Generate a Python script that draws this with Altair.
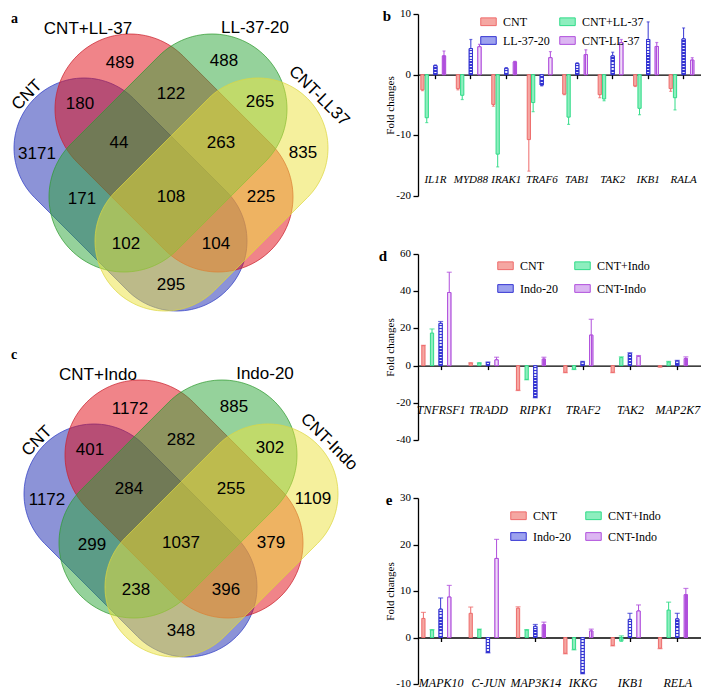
import math
import altair as alt
import pandas as pd

# ---------------- data ----------------
venn_a_sets = ["CNT", "CNT+LL-37", "LL-37-20", "CNT-LL37"]
venn_a_counts = [3171, 489, 488, 835, 180, 122, 265, 44, 263, 171, 108, 225, 102, 104, 295]
venn_c_sets = ["CNT", "CNT+Indo", "Indo-20", "CNT-Indo"]
venn_c_counts = [1172, 1172, 885, 1109, 401, 282, 302, 284, 255, 299, 1037, 379, 238, 396, 348]

genes_b = ["IL1R", "MYD88", "IRAK1", "TRAF6", "TAB1", "TAK2", "IKB1", "RALA"]
series_b = ["CNT", "CNT+LL-37", "LL-37-20", "CNT-LL-37"]
b_cnt = [-2.5, -2.3, -4.9, -10.7, -3.2, -3.3, -1.85, -2.3]
b_cnt_end = [-2.65, -2.5, -5.2, -15.9, -3.3, -3.8, -1.95, -2.75]
b_cntll = [-7.1, -3.4, -13.1, -4.6, -7.0, -4.0, -5.55, -3.8]
b_cntll_end = [-7.9, -4.1, -15.2, -6.1, -8.2, -4.3, -6.6, -5.8]
b_ll20 = [1.5, 4.3, 1.05, -1.7, 1.85, 3.1, 5.8, 5.9]
b_ll20_end = [1.6, 5.8, 1.15, -1.85, 1.95, 3.7, 8.7, 7.7]
b_cntm = [3.1, 4.6, 2.1, 2.8, 3.3, 5.3, 4.65, 2.4]
b_cntm_end = [3.9, 5.0, 2.2, 3.8, 4.1, 5.8, 5.3, 2.8]

genes_d = ["TNFRSF1", "TRADD", "RIPK1", "TRAF2", "TAK2", "MAP2K7"]
series_d = ["CNT", "CNT+Indo", "Indo-20", "CNT-Indo"]
d_cnt = [10.7, 1.4, -13.2, -3.6, -3.6, -0.7]
d_cnt_end = [10.9, 1.5, -13.4, -3.8, -3.8, -0.8]
d_cntp = [17.5, 1.4, -7.4, -1.9, 4.3, 1.9]
d_cntp_end = [19.7, 1.5, -7.6, -2.1, 4.7, 2.25]
d_i20 = [22.7, 1.7, -17.1, 1.9, 6.4, 2.4]
d_i20_end = [23.7, 1.9, -17.3, 2.25, 6.9, 2.8]
d_cntm = [39.3, 3.1, 3.5, 16.4, 5.0, 3.8]
d_cntm_end = [50.2, 4.5, 4.5, 24.9, 5.4, 4.7]

genes_e = ["MAPK10", "C-JUN", "MAP3K14", "IKKG", "IKB1", "RELA"]
series_e = ["CNT", "CNT+Indo", "Indo-20", "CNT-Indo"]
e_cnt = [4.1, 5.2, 6.3, -3.4, -1.7, -2.3]
e_cnt_end = [5.4, 6.55, 6.6, -3.5, -1.8, -2.4]
e_cntp = [1.6, 1.7, 1.6, -2.55, -0.8, 5.9]
e_cntp_end = [1.7, 1.8, 1.7, -2.65, 0.35, 7.6]
e_i20 = [6.1, -3.2, 2.4, -7.7, 3.9, 4.0]
e_i20_end = [8.5, -3.3, 2.8, -7.8, 5.2, 5.2]
e_cntm = [8.7, 17.0, 2.75, 1.4, 5.7, 9.2]
e_cntm_end = [11.2, 21.1, 3.3, 1.8, 7.0, 10.55]

# ---------------- styles / layout ----------------
SERIF = "Liberation Serif"
SANS = "Liberation Sans"
bar_stroke = ["#ee6b6b", "#30dc88", "#3535d2", "#b04fdc"]
bar_fill = ["#f5a7a2", "#8deebe", "#eceefc", "#efdcf8"]

venn_fill = ["#1a28b0", "#e10a14", "#2ca538", "#ebe23c"]
venn_line = ["#2c3bc4", "#c8202c", "#2f9a2f", "#dcd640"]
# stadium shapes: (cap centre 1, cap centre 2, radius) in diagram units
venn_geom = [((76, 142), (169, 235), 70), ((122, 103), (210, 191), 75),
             ((204, 103), (116, 191), 75), ((250, 142), (157, 235), 70)]
region_xy = [(29, 148), (112, 57), (216, 55), (295, 147), (72, 98), (163, 88), (252, 96),
             (111, 137), (213, 137), (74, 193), (163, 191), (253, 191), (118, 238), (208, 238),
             (163, 279)]
set_label_xy = [(19, 89), (80, 23), (247, 22), (311, 90)]
set_label_angle = [315, 0, 0, 45]
diagram_offset = {"a": (0, -8), "c": (10, 338)}


def stadium(p1, p2, r, off, k=60):
    (x1, y1), (x2, y2) = p1, p2
    base = math.atan2(y2 - y1, x2 - x1)
    pts = []
    for i in range(k + 1):
        a = base - math.pi / 2 + math.pi * i / k
        pts.append([x2 + r * math.cos(a) + off[0], y2 + r * math.sin(a) + off[1]])
    for i in range(k + 1):
        a = base + math.pi / 2 + math.pi * i / k
        pts.append([x1 + r * math.cos(a) + off[0], y1 + r * math.sin(a) + off[1]])
    pts.append(pts[0])
    return pts


features = []
texts = []
for key, sets, counts in [("a", venn_a_sets, venn_a_counts), ("c", venn_c_sets, venn_c_counts)]:
    off = diagram_offset[key]
    for i, (p1, p2, r) in enumerate(venn_geom):
        features.append({"type": "Feature",
                         "geometry": {"type": "Polygon", "coordinates": [stadium(p1, p2, r, off)]},
                         "properties": {"fill": venn_fill[i], "line": venn_line[i], "name": sets[i]}})
    for (x, y), c in zip(region_xy, counts):
        texts.append({"x": x + off[0], "y": y + off[1], "label": str(c), "ang": 0})
    for (x, y), s, ang in zip(set_label_xy, sets, set_label_angle):
        texts.append({"x": x + off[0], "y": y + off[1], "label": s, "ang": ang})

proj = dict(type="identity", scale=1, translate=[0, 0])

shapes = alt.Chart(
    alt.InlineData(values={"type": "FeatureCollection", "features": features},
                   format=alt.DataFormat(property="features", type="json"))
).mark_geoshape(fillOpacity=0.5, strokeWidth=0.8, strokeOpacity=0.9).encode(
    fill=alt.Fill("properties.fill:N", scale=None),
    stroke=alt.Stroke("properties.line:N", scale=None),
).project(**proj)

venn_text = alt.Chart(pd.DataFrame(texts)).mark_text(
    font=SANS, fontSize=17, color="black", baseline="middle", align="center"
).encode(
    longitude="x:Q", latitude="y:Q", text="label:N", angle=alt.Angle("ang:Q", scale=None)
).project(**proj)

letters_venn = alt.Chart(pd.DataFrame({"x": [3, 3], "y": [5, 341], "t": ["a", "c"]})).mark_text(
    font=SERIF, fontSize=14, fontWeight="bold", color="black", align="left", baseline="middle"
).encode(longitude="x:Q", latitude="y:Q", text="t:N").project(**proj)

left = alt.layer(shapes, venn_text, letters_venn).properties(width=350, height=650)


def stripe_gradient(height_px, color, bg, spacing=3.0):
    n = max(1, int(round(height_px / spacing)))
    stops = []
    for i in range(n):
        a, m, b = i / n, (i + 0.45) / n, (i + 1) / n
        stops += [{"offset": a, "color": bg}, {"offset": m, "color": bg},
                  {"offset": m, "color": color}, {"offset": b, "color": color}]
    return {"gradient": "linear", "x1": 0, "y1": 0, "x2": 0, "y2": 1, "stops": stops}


def bar_panel(letter, genes, series, vals, ends, domain, ticks, h, label_level, label_size,
              legend_x, legend_y, row_pad, col_pad, cap, letter_dx):
    span = domain[1] - domain[0]
    px_per_unit = h / span
    rows = []
    for si, (s, v, e) in enumerate(zip(series, vals, ends)):
        for g, vv, ee in zip(genes, v, e):
            grad = stripe_gradient(abs(vv) * px_per_unit, bar_stroke[2], bar_fill[2]) if si == 2 else None
            rows.append({"gene": g, "series": s, "value": vv, "end": ee, "grad": grad})
    df = pd.DataFrame(rows)
    zero_from_bottom = h * (0 - domain[0]) / span
    x = alt.X("gene:N", sort=genes,
              scale=alt.Scale(paddingInner=0.18, paddingOuter=0.08),
              axis=alt.Axis(title=None, labels=False, offset=-zero_from_bottom,
                            tickSize=4, tickColor="black", domainColor="black",
                            domainWidth=1.3, tickWidth=1.3))
    xo = alt.XOffset("series:N", sort=series, scale=alt.Scale(paddingInner=0.25))
    yaxis = alt.Axis(values=[float(t) for t in ticks], grid=False, title="Fold changes",
                     titleFont=SERIF, titleFontSize=11, titleFontWeight="normal",
                     titleColor="black", labels=False, tickSize=5, tickColor="black",
                     domainColor="black", domainWidth=1.3, tickWidth=1.3,
                     titlePadding=17)
    yscale = alt.Scale(domain=domain, nice=False)

    def ych(field):
        return alt.Y(field, scale=yscale, axis=yaxis, title="Fold changes")

    leg = alt.Legend(title=None, orient="none", legendX=legend_x, legendY=legend_y,
                     columns=2, direction="horizontal",
                     labelFont=SERIF, labelFontSize=12, labelColor="black",
                     symbolType="M-1,-0.5H1V0.5H-1Z", symbolSize=240, symbolStrokeWidth=1,
                     rowPadding=row_pad, columnPadding=col_pad, labelOffset=6)
    legend_fill = [bar_fill[0], bar_fill[1], "#9da2ee", "#dcb6f2"]
    base = alt.Chart(df)
    bars = base.mark_bar(strokeWidth=1).encode(
        x=x, xOffset=xo, y=ych("value:Q"),
        fill=alt.Fill("series:N", sort=series, scale=alt.Scale(domain=series, range=legend_fill), legend=leg),
        stroke=alt.Stroke("series:N", sort=series, scale=alt.Scale(domain=series, range=bar_stroke), legend=leg),
    )
    hstripes = base.transform_filter(alt.datum.series == series[2]).mark_bar(
        strokeWidth=1, stroke=bar_stroke[2]
    ).encode(x=x, xOffset=xo, y=ych("value:Q"), fill=alt.Fill("grad:N", scale=None))
    vstripes = base.transform_filter(alt.datum.series == series[3]).mark_bar(
        strokeWidth=1, stroke=bar_stroke[3],
        fill=alt.Gradient(gradient="linear", x1=0, x2=1, y1=0, y2=0, stops=[
            alt.GradientStop(offset=0, color=bar_fill[3]),
            alt.GradientStop(offset=0.3, color=bar_fill[3]),
            alt.GradientStop(offset=0.3, color=bar_stroke[3]),
            alt.GradientStop(offset=0.42, color=bar_stroke[3]),
            alt.GradientStop(offset=0.42, color=bar_fill[3]),
            alt.GradientStop(offset=0.58, color=bar_fill[3]),
            alt.GradientStop(offset=0.58, color=bar_stroke[3]),
            alt.GradientStop(offset=0.7, color=bar_stroke[3]),
            alt.GradientStop(offset=0.7, color=bar_fill[3]),
            alt.GradientStop(offset=1, color=bar_fill[3]),
        ])
    ).encode(x=x, xOffset=xo, y=ych("value:Q"))
    col = alt.Color("series:N", sort=series, scale=alt.Scale(domain=series, range=bar_stroke), legend=None)
    err = base.mark_rule(strokeWidth=1).encode(x=x, xOffset=xo, y=ych("value:Q"), y2="end:Q", color=col)
    caps = base.mark_tick(thickness=1.2, size=cap).encode(x=x, xOffset=xo, y=ych("end:Q"), color=col)
    gene_labels = alt.Chart(pd.DataFrame({"gene": genes})).mark_text(
        font=SERIF, fontSize=label_size, fontStyle="italic", color="black", baseline="middle"
    ).encode(x=x, y=alt.Y(datum=label_level, scale=yscale, axis=yaxis, title="Fold changes"),
             text="gene:N")
    tick_labels = alt.Chart(pd.DataFrame({"t": ticks, "lab": [str(t) for t in ticks]})).mark_text(
        font=SERIF, fontSize=11, color="black", align="right", baseline="middle", dx=-7
    ).encode(y=ych("t:Q"), x=alt.value(0), text="lab:N")
    let = alt.Chart(pd.DataFrame({"t": [letter]})).mark_text(
        font=SERIF, fontSize=15, fontWeight="bold", color="black", baseline="middle", align="center"
    ).encode(text="t:N", x=alt.value(letter_dx), y=alt.value(2))
    return alt.layer(bars, hstripes, vstripes, err, caps, gene_labels, tick_labels, let).properties(
        width=283, height=h)


pb = bar_panel("b", genes_b, series_b,
               [b_cnt, b_cntll, b_ll20, b_cntm], [b_cnt_end, b_cntll_end, b_ll20_end, b_cntm_end],
               [-20, 10], [-20, -10, 0, 10], 182, -17.3, 11, 62, -1, 4, 7, 3, -31)
pd_ = bar_panel("d", genes_d, series_d,
                [d_cnt, d_cntp, d_i20, d_cntm], [d_cnt_end, d_cntp_end, d_i20_end, d_cntm_end],
                [-40, 60], [-40, -20, 0, 20, 40, 60], 186, -24.0, 12, 79, 3, 8, 14, 5, -35)
pe = bar_panel("e", genes_e, series_e,
               [e_cnt, e_cntp, e_i20, e_cntm], [e_cnt_end, e_cntp_end, e_i20_end, e_cntm_end],
               [-10, 30], [-10, 0, 10, 20, 30], 186, -9.7, 12, 92, 9, 6, 12, 5, -29)

right = alt.vconcat(pb, pd_, pe, spacing=58, bounds="flush").resolve_scale(
    fill="independent", stroke="independent", color="independent"
).resolve_legend(fill="independent", stroke="independent", color="independent")
chart = alt.hconcat(left, right, spacing=60, bounds="flush").resolve_scale(
    fill="independent", stroke="independent", color="independent"
).resolve_legend(fill="independent", stroke="independent", color="independent").properties(
    padding=0, background="white"
).configure_view(stroke=None)

chart.save("out.html", embed_options={"renderer": "svg", "actions": False})
